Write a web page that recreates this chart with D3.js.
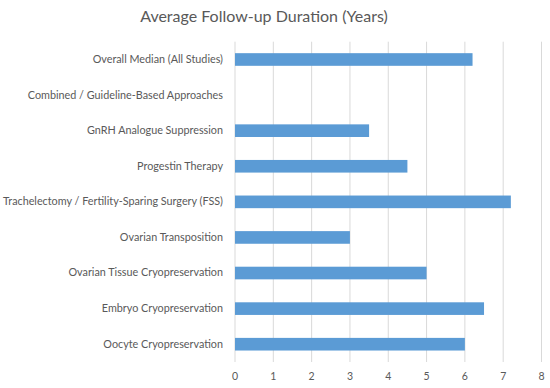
<!DOCTYPE html>
<html><head><meta charset="utf-8">
<script src="https://cdn.jsdelivr.net/npm/d3@7"></script>
<style>body{margin:0;background:#fff;}svg{display:block;}</style>
</head><body>
<script>
const categories = [
  "Overall Median (All Studies)",
  "Combined / Guideline-Based Approaches",
  "GnRH Analogue Suppression",
  "Progestin Therapy",
  "Trachelectomy / Fertility-Sparing Surgery (FSS)",
  "Ovarian Transposition",
  "Ovarian Tissue Cryopreservation",
  "Embryo Cryopreservation",
  "Oocyte Cryopreservation"
];
const values = [6.2, null, 3.5, 4.5, 7.2, 3.0, 5.0, 6.5, 6.0];
const xTicks = [0,1,2,3,4,5,6,7,8];
const title = "Average Follow-up Duration (Years)";

const W = 550, H = 388;
const m = {left: 234.5, right: 9, top: 41.7, bottom: 26};
const svg = d3.select("body").append("svg").attr("width", W).attr("height", H);
const font = "Lato, 'Open Sans', sans-serif";

const x = d3.scaleLinear().domain([0, 8]).range([m.left, W - m.right]);
const y = d3.scaleBand().domain(categories).range([m.top, H - m.bottom]).paddingInner(0.645).paddingOuter(0.3225);

svg.append("text").attr("x", 264).attr("y", 22).attr("text-anchor", "middle")
  .attr("font-family", font).attr("font-size", 16).attr("fill", "#595959").text(title);

// gridlines
svg.append("g").selectAll("line").data(xTicks).join("line")
  .attr("x1", d => x(d) + 0.5).attr("x2", d => x(d) + 0.5)
  .attr("y1", m.top).attr("y2", H - m.bottom)
  .attr("stroke", "#d9d9d9").attr("stroke-width", 1);

// bars
svg.append("g").selectAll("rect").data(categories.map((c, i) => ({c, v: values[i]})).filter(d => d.v != null))
  .join("rect")
  .attr("x", x(0) + 0.5).attr("y", d => y(d.c))
  .attr("width", d => x(d.v) - x(0)).attr("height", y.bandwidth())
  .attr("fill", "#5b9bd5");

// x axis labels
const xa = svg.append("g").attr("transform", `translate(0,${H - m.bottom})`)
  .call(d3.axisBottom(x).tickValues(xTicks).tickSize(0).tickPadding(11).tickFormat(d3.format("d")));
xa.select(".domain").remove();
xa.selectAll("text").attr("font-family", font).attr("font-size", 10.5).attr("fill", "#595959");

// y axis labels
const ya = svg.append("g").attr("transform", `translate(${m.left},0)`)
  .call(d3.axisLeft(y).tickSize(0).tickPadding(11.5));
ya.select(".domain").remove();
ya.selectAll("text").attr("font-family", font).attr("font-size", 10.8).attr("fill", "#595959");
</script>
</body></html>
